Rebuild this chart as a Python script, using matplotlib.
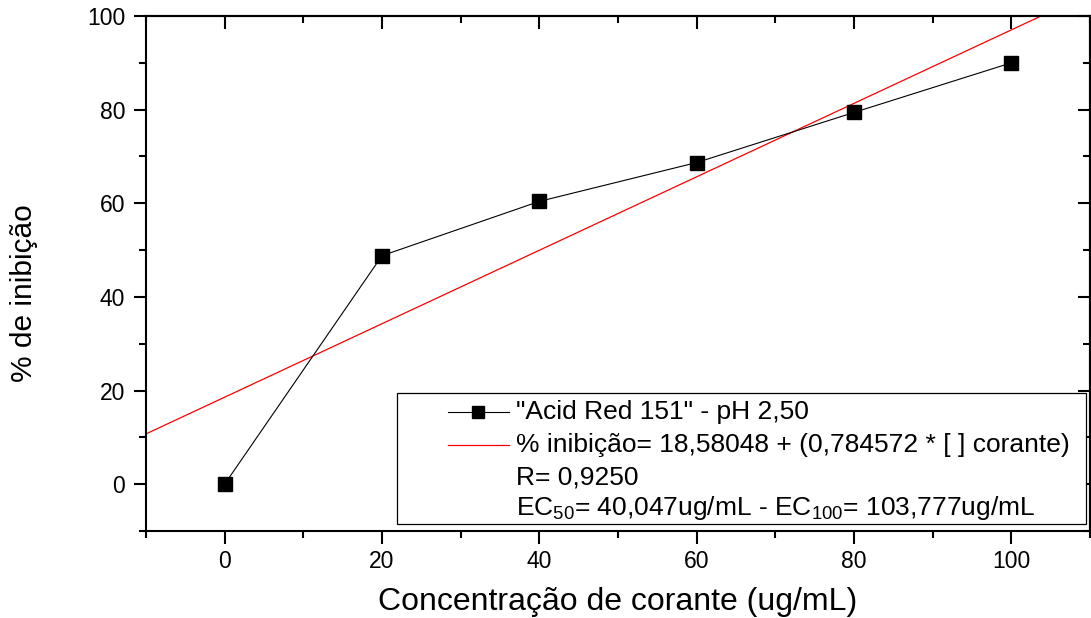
import numpy as np
import matplotlib
matplotlib.use('Agg')
import matplotlib.pyplot as plt
from matplotlib.ticker import MultipleLocator
from matplotlib.lines import Line2D
from matplotlib.patches import Rectangle

plt.rcParams['font.family'] = ['Liberation Sans', 'DejaVu Sans']
plt.rcParams['mathtext.fontset'] = 'custom'
plt.rcParams['mathtext.rm'] = 'Liberation Sans'
plt.rcParams['mathtext.it'] = 'Liberation Sans'

# dados / data
conc = [0, 20, 40, 60, 80, 100]
inib = [0, 48.8, 60.4, 68.7, 79.4, 90.0]
intercepto = 18.58048
inclinacao = 0.784572
serie_label = '"Acid Red 151" - pH 2,50'
ajuste_label = '% inibição= 18,58048 + (0,784572 * [ ] corante)'
r_label = 'R= 0,9250'
ec_label = r'EC$_{50}$= 40,047ug/mL - EC$_{100}$= 103,777ug/mL'

fig = plt.figure(figsize=(10.91, 6.18), dpi=100)
ax = fig.add_axes([0.1338, 0.1408, 0.8653, 0.8333])

xf = np.array([-10, 110])
ax.plot(xf, intercepto + inclinacao*xf, color='red', lw=0.9, zorder=2)
ax.plot(conc, inib, color='black', lw=0.8, marker='s', ms=10,
        mfc='black', mec='black', zorder=3)

ax.set_xlim(-10, 110)
ax.set_ylim(-10, 100)
ax.xaxis.set_major_locator(MultipleLocator(20))
ax.xaxis.set_minor_locator(MultipleLocator(10))
ax.yaxis.set_major_locator(MultipleLocator(20))
ax.yaxis.set_minor_locator(MultipleLocator(10))
ax.set_xticks(range(0, 101, 20))

for s in ax.spines.values():
    s.set_linewidth(1.5)
ax.tick_params(which='major', direction='out', length=9, width=1.5,
               labelsize=16.5)
ax.tick_params(axis='x', which='major', pad=5)
ax.tick_params(axis='y', which='major', pad=6)
ax.tick_params(which='minor', direction='out', length=5, width=1.5)

# eixos de cima e direita: ticks para dentro
sx = ax.secondary_xaxis('top')
sy = ax.secondary_yaxis('right')
sx.xaxis.set_minor_locator(MultipleLocator(10))
sy.yaxis.set_minor_locator(MultipleLocator(10))
for sec in (sx, sy):
    sec.set_ticks(range(0, 101, 20))
    sec.tick_params(which='major', direction='in', length=9, width=1.5,
                    labelleft=False, labelright=False, labeltop=False,
                    labelbottom=False)
    sec.tick_params(which='minor', direction='in', length=5, width=1.5)
    for s in sec.spines.values():
        s.set_linewidth(1.5)

ax.set_xlabel('Concentração de corante (ug/mL)', fontsize=23, labelpad=10)
ax.set_ylabel('% de inibição', fontsize=21.5)
ax.yaxis.set_label_coords(-0.114, 0.462)

# legenda manual
ax.add_patch(Rectangle((0.2656, 0.0136), 0.730, 0.2544, transform=ax.transAxes,
                       fill=True, fc='white', ec='black', lw=0.9, zorder=4))
ax.add_line(Line2D([0.3196, 0.385], [0.231, 0.231], transform=ax.transAxes,
                   color='black', lw=0.8, zorder=5))
ax.add_line(Line2D([0.352], [0.231], transform=ax.transAxes, marker='s',
                   ms=9, color='black', zorder=5))
ax.add_line(Line2D([0.3196, 0.385], [0.167, 0.167], transform=ax.transAxes,
                   color='red', lw=0.9, zorder=5))
for txt, yy in zip([serie_label, ajuste_label, r_label, ec_label],
                   [0.231, 0.167, 0.104, 0.0447]):
    ax.text(0.3915, yy, txt, transform=ax.transAxes, fontsize=19,
            va='center', ha='left', zorder=6)

fig.savefig('out.png', dpi=100)
